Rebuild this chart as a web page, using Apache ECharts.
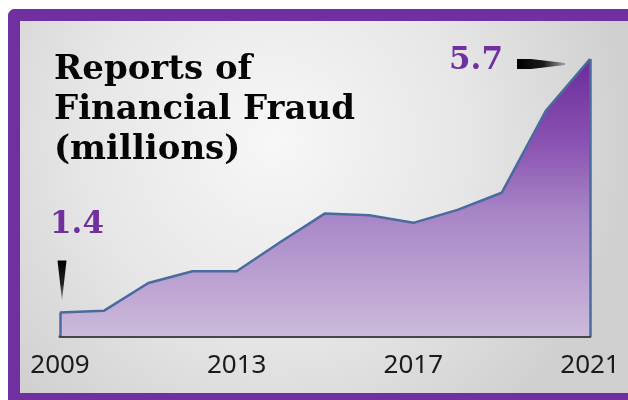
<!DOCTYPE html>
<html>
<head>
<meta charset="utf-8">
<script src="https://cdn.jsdelivr.net/npm/echarts@6/dist/echarts.min.js"></script>
<style>
html,body{margin:0;padding:0;background:#fff;overflow:hidden;}
#chart{width:628px;height:400px;}
</style>
</head>
<body>
<div id="chart"></div>
<script>
// Data
const years = ['2009','2010','2011','2012','2013','2014','2015','2016','2017','2018','2019','2020','2021'];
const reports = [1.4, 1.43, 1.9, 2.1, 2.1, 2.6, 3.08, 3.05, 2.92, 3.14, 3.43, 4.82, 5.7];
const xTickLabels = ['2009','2013','2017','2021'];
const titleLines = ['Reports of', 'Financial Fraud', '(millions)'];

const firstIdx = 0;
const lastIdx = years.length - 1;
const purple = '#7030a0';
const lineBlue = '#4a6b9e';

const chart = echarts.init(document.getElementById('chart'), null, {renderer: 'canvas', width: 628, height: 400});

const option = {
  backgroundColor: '#ffffff',
  animation: false,
  graphic: [
    {
      type: 'rect', z: -10, silent: true,
      shape: {x: 8, y: 9, width: 30, height: 391, r: [7, 0, 0, 0]},
      style: {fill: purple}
    },
    {
      type: 'rect', z: -10, silent: true,
      shape: {x: 8, y: 9, width: 620, height: 30, r: [7, 0, 0, 0]},
      style: {fill: purple}
    },
    {
      type: 'rect', z: -10, silent: true,
      shape: {x: 8, y: 380, width: 620, height: 20},
      style: {fill: purple}
    },
    {
      type: 'rect', z: -9, silent: true,
      shape: {x: 20, y: 21, width: 608, height: 372},
      style: {
        fill: new echarts.graphic.RadialGradient(0.42, 0.32, 0.95, [
          {offset: 0, color: '#f7f7f7'},
          {offset: 0.55, color: '#e6e6e6'},
          {offset: 1, color: '#d0d0d0'}
        ])
      }
    }
  ],
  title: {
    text: titleLines.join('\n'),
    left: 54,
    top: 50,
    padding: 0,
    textStyle: {
      fontFamily: 'DejaVu Serif',
      fontWeight: 'bold',
      fontSize: 34,
      lineHeight: 40,
      color: '#050505'
    }
  },
  grid: {left: 60, right: 38, top: 59, bottom: 64, containLabel: false},
  xAxis: {
    type: 'category',
    data: years,
    boundaryGap: false,
    axisLine: {show: true, lineStyle: {color: '#474747', width: 3}},
    axisTick: {show: false},
    splitLine: {show: false},
    axisLabel: {
      interval: 0,
      margin: 17,
      fontFamily: 'Noto Sans',
      fontSize: 26,
      color: '#1a1a1a',
      formatter: function (v) { return xTickLabels.indexOf(v) >= 0 ? v : ''; }
    }
  },
  yAxis: {
    type: 'value',
    min: 1,
    max: 5.7,
    show: false,
    splitLine: {show: false}
  },
  series: [{
    type: 'line',
    data: reports,
    symbol: 'none',
    z: 3,
    lineStyle: {color: lineBlue, width: 2.5},
    areaStyle: {
      opacity: 1,
      color: new echarts.graphic.LinearGradient(0, 0, 0, 1, [
        {offset: 0, color: '#6c2b9c'},
        {offset: 0.3, color: '#8a52b2'},
        {offset: 0.55, color: '#a784c6'},
        {offset: 1, color: '#ccbadb'}
      ])
    },
    markLine: {
      silent: true,
      symbol: 'none',
      label: {show: false},
      lineStyle: {color: lineBlue, width: 2.5, type: 'solid'},
      data: [
        [{coord: [firstIdx, 1]}, {coord: [firstIdx, reports[firstIdx]]}],
        [{coord: [lastIdx, 1]}, {coord: [lastIdx, reports[lastIdx]]}]
      ]
    },
    markPoint: {
      silent: true,
      data: [
        {
          coord: [firstIdx, reports[firstIdx]],
          symbol: 'path://M0,0 L10,0 L5,40 Z',
          symbolSize: [9, 40],
          symbolOffset: [2, -32],
          itemStyle: {
            color: new echarts.graphic.LinearGradient(0, 0, 0, 1, [
              {offset: 0, color: '#000'}, {offset: 0.6, color: '#222'}, {offset: 1, color: '#9a9a9a'}
            ])
          },
          label: {show: false}
        },
        {
          coord: [lastIdx, reports[lastIdx]],
          symbol: 'path://M0,0 L14,0 L48,4 L48,6 L14,10 L0,10 Z',
          symbolSize: [48, 10],
          symbolOffset: [-49, 5],
          itemStyle: {
            color: new echarts.graphic.LinearGradient(0, 0, 1, 0, [
              {offset: 0, color: '#000'}, {offset: 0.55, color: '#1a1a1a'}, {offset: 1, color: '#a0a0a0'}
            ])
          },
          label: {show: false}
        },
        {
          coord: [firstIdx, reports[firstIdx]],
          symbol: 'circle',
          symbolSize: 0,
          symbolOffset: [17, -87],
          label: {
            show: true, position: 'inside',
            formatter: String(reports[firstIdx]),
            fontFamily: 'DejaVu Serif', fontWeight: 'bold', fontSize: 31, color: purple
          }
        },
        {
          coord: [lastIdx, reports[lastIdx]],
          symbol: 'circle',
          symbolSize: 0,
          symbolOffset: [-114, 2],
          label: {
            show: true, position: 'inside',
            formatter: String(reports[lastIdx]),
            fontFamily: 'DejaVu Serif', fontWeight: 'bold', fontSize: 31, color: purple
          }
        }
      ]
    }
  }]
};
chart.setOption(option);
</script>
</body>
</html>
